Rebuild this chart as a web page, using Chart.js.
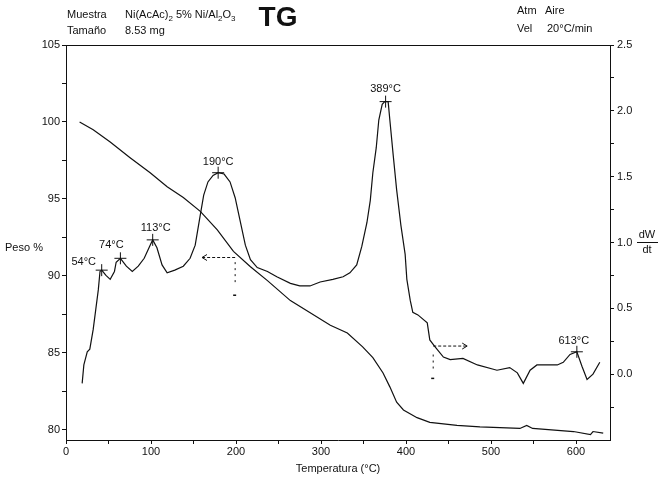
<!DOCTYPE html>
<html lang="es">
<head>
    <meta charset="UTF-8">
    <title>TG Ni(AcAc)2 5% Ni/Al2O3</title>
    <script src="https://cdn.jsdelivr.net/npm/chart.js@4.4.1/dist/chart.umd.min.js"></script>
    <style>
        body {
            margin: 0;
            background: #fff;
        }
        #tgChart {
            display: block;
        }
    </style>
</head>
<body>
    <canvas id="tgChart" width="661" height="481"></canvas>

    <script>
        // TG curve (peso %)
        const tgTemp = [16, 32, 52, 75, 99, 119, 138, 158, 178, 197, 217, 237, 264, 311, 331, 349, 361, 373, 381, 389, 397, 413, 428, 460, 487, 534, 542, 549, 597, 617, 620, 632];
        const tgWeight = [100.0, 99.5, 98.7, 97.7, 96.7, 95.8, 95.1, 94.2, 93.0, 91.6, 90.6, 89.7, 88.4, 86.8, 86.3, 85.4, 84.7, 83.7, 82.8, 81.8, 81.3, 80.8, 80.5, 80.3, 80.2, 80.1, 80.3, 80.1, 79.9, 79.7, 79.9, 79.8];

        // DTG curve (dW/dt)
        const dtgTemp = [19, 21, 25, 28, 32, 35, 38, 40, 42, 47, 52, 57, 59, 64, 71, 78, 85, 92, 99, 102, 107, 113, 119, 128, 138, 146, 152, 158, 162, 167, 173, 179, 186, 193, 199, 205, 211, 217, 225, 237, 248, 264, 275, 287, 299, 314, 326, 334, 342, 348, 354, 358, 361, 365, 368, 372, 375, 379, 381, 385, 389, 394, 399, 401, 405, 408, 414, 425, 428, 434, 444, 452, 467, 484, 507, 522, 531, 538, 546, 554, 578, 585, 593, 601, 607, 613, 620, 628];
        const dtgRate = [-0.07, 0.07, 0.17, 0.19, 0.34, 0.49, 0.64, 0.78, 0.79, 0.75, 0.72, 0.78, 0.85, 0.88, 0.82, 0.78, 0.82, 0.88, 0.98, 1.02, 0.96, 0.83, 0.77, 0.79, 0.82, 0.88, 0.98, 1.21, 1.36, 1.46, 1.51, 1.53, 1.52, 1.46, 1.34, 1.16, 0.98, 0.87, 0.81, 0.78, 0.74, 0.69, 0.67, 0.67, 0.70, 0.72, 0.74, 0.77, 0.83, 0.97, 1.15, 1.32, 1.53, 1.72, 1.93, 2.05, 2.07, 2.07, 1.93, 1.66, 1.40, 1.13, 0.91, 0.72, 0.56, 0.47, 0.45, 0.39, 0.26, 0.21, 0.13, 0.11, 0.12, 0.07, 0.03, 0.05, 0.01, -0.07, 0.03, 0.07, 0.07, 0.09, 0.15, 0.17, 0.06, -0.04, 0.00, 0.09];

        // marked DTG peaks
        const peakTemp = [42, 64, 102, 179, 376, 601];
        const peakRate = [0.79, 0.88, 1.02, 1.53, 2.07, 0.17];
        const peakLabels = ['54°C', '74°C', '113°C', '190°C', '389°C', '613°C'];

        // axis ticks
        const xTicks = [0, 50, 100, 150, 200, 250, 300, 350, 400, 450, 500, 550, 600];
        const yTicks = [80, 82.5, 85, 87.5, 90, 92.5, 95, 97.5, 100, 102.5, 105];
        const y1Ticks = [-0.25, 0, 0.25, 0.5, 0.75, 1.0, 1.25, 1.5, 1.75, 2.0, 2.25, 2.5];

        const FONT = '"Liberation Sans", Arial, sans-serif';
        const INK = '#111';

        // label offsets for the peak temperatures
        const labelShift = [[-18, -8], [-9, -13], [3, -12], [0, -11], [0, -13], [-3, -11]];

        function toPoints(xs, ys) {
            return xs.map((x, i) => ({ x: x, y: ys[i] }));
        }

        function drawParts(ctx, parts, x, y, size) {
            // parts: [text, isSubscript]
            let cx = x;
            parts.forEach(p => {
                if (p[1]) {
                    ctx.font = Math.round(size * 0.75) + 'px ' + FONT;
                    ctx.fillText(p[0], cx, y + 4);
                } else {
                    ctx.font = size + 'px ' + FONT;
                    ctx.fillText(p[0], cx, y);
                }
                cx += ctx.measureText(p[0]).width;
            });
        }

        function arrowHead(ctx, x, y, dir) {
            ctx.beginPath();
            ctx.moveTo(x + dir * 5, y - 3);
            ctx.lineTo(x, y);
            ctx.lineTo(x + dir * 5, y + 3);
            ctx.stroke();
        }

        const decorations = {
            id: 'decorations',
            afterDraw(chart) {
                const ctx = chart.ctx;
                const a = chart.chartArea;
                const sx = chart.scales.x;
                const sy = chart.scales.y;
                const sy1 = chart.scales.y1;
                ctx.save();
                ctx.fillStyle = INK;
                ctx.strokeStyle = INK;

                // frame
                ctx.lineWidth = 1;
                ctx.beginPath();
                ctx.moveTo(a.left, a.top + 0.5);
                ctx.lineTo(a.right, a.top + 0.5);
                ctx.stroke();

                // header
                ctx.textBaseline = 'middle';
                ctx.textAlign = 'left';
                ctx.font = '11px ' + FONT;
                ctx.fillText('Muestra', 67, 15);
                drawParts(ctx, [['Ni(AcAc)', 0], ['2', 1], [' 5% Ni/Al', 0], ['2', 1], ['O', 0], ['3', 1]], 125, 15, 11);
                ctx.font = '11px ' + FONT;
                ctx.fillText('Tamaño', 67, 31);
                ctx.fillText('8.53 mg', 125, 31);
                ctx.fillText('Atm', 517, 11);
                ctx.fillText('Aire', 545, 11);
                ctx.fillText('Vel', 517, 29);
                ctx.fillText('20°C/min', 547, 29);

                ctx.textAlign = 'center';
                ctx.font = 'bold 28px ' + FONT;
                ctx.fillText('TG', 278, 18);

                // axis side labels
                ctx.font = '11px ' + FONT;
                ctx.textAlign = 'left';
                ctx.fillText('Peso %', 5, 248);
                ctx.textAlign = 'center';
                ctx.fillText('dW', 647, 235);
                ctx.fillText('dt', 647, 250);
                ctx.beginPath();
                ctx.moveTo(637, 242.5);
                ctx.lineTo(658, 242.5);
                ctx.stroke();

                // peak labels
                ctx.font = '11px ' + FONT;
                peakTemp.forEach((t, i) => {
                    const px = sx.getPixelForValue(t) + labelShift[i][0];
                    const py = sy1.getPixelForValue(peakRate[i]) + labelShift[i][1];
                    ctx.fillText(peakLabels[i], px, py);
                });

                // dashed arrows showing which axis each curve uses
                ctx.setLineDash([3, 2]);
                let y = sy.getPixelForValue(91.2);
                let x0 = sx.getPixelForValue(199);
                let x1 = sx.getPixelForValue(160);
                ctx.beginPath();
                ctx.moveTo(x0, y);
                ctx.lineTo(x1, y);
                ctx.stroke();
                ctx.setLineDash([2, 4]);
                ctx.beginPath();
                ctx.moveTo(x0, sy.getPixelForValue(90.9));
                ctx.lineTo(x0, sy.getPixelForValue(89.5));
                ctx.stroke();
                ctx.setLineDash([]);
                arrowHead(ctx, x1, y, 1);
                ctx.fillRect(x0 - 2, sy.getPixelForValue(88.8), 3, 1.5);

                ctx.setLineDash([3, 2]);
                y = sy.getPixelForValue(85.45);
                x0 = sx.getPixelForValue(432);
                x1 = sx.getPixelForValue(472);
                ctx.beginPath();
                ctx.moveTo(x0, y);
                ctx.lineTo(x1, y);
                ctx.stroke();
                ctx.setLineDash([2, 4]);
                ctx.beginPath();
                ctx.moveTo(x0, sy.getPixelForValue(84.9));
                ctx.lineTo(x0, sy.getPixelForValue(83.9));
                ctx.stroke();
                ctx.setLineDash([]);
                arrowHead(ctx, x1, y, -1);
                ctx.fillRect(x0 - 2, sy.getPixelForValue(83.4), 3, 1.5);

                ctx.restore();
            }
        };

        function fixedTicks(list) {
            return scale => {
                scale.ticks = list.map(v => ({ value: v }));
            };
        }

        const tickFont = { family: FONT, size: 11 };

        new Chart(document.getElementById('tgChart'), {
            type: 'line',
            data: {
                datasets: [
                    {
                        label: 'TG',
                        data: toPoints(tgTemp, tgWeight),
                        yAxisID: 'y',
                        borderColor: INK,
                        borderWidth: 1.2,
                        pointRadius: 0,
                        tension: 0
                    },
                    {
                        label: 'DTG',
                        data: toPoints(dtgTemp, dtgRate),
                        yAxisID: 'y1',
                        borderColor: INK,
                        borderWidth: 1.2,
                        pointRadius: 0,
                        tension: 0
                    },
                    {
                        label: 'Picos',
                        data: toPoints(peakTemp, peakRate),
                        yAxisID: 'y1',
                        showLine: false,
                        pointStyle: 'cross',
                        pointRadius: 6,
                        borderColor: INK,
                        borderWidth: 1
                    }
                ]
            },
            options: {
                responsive: false,
                animation: false,
                layout: { padding: { top: 45, left: 0, right: 0, bottom: 5 } },
                plugins: {
                    legend: { display: false },
                    tooltip: { enabled: false }
                },
                scales: {
                    x: {
                        type: 'linear',
                        min: 0,
                        max: 640,
                        afterBuildTicks: fixedTicks(xTicks),
                        afterFit: s => { s.height = 36; },
                        border: { color: INK, width: 1 },
                        grid: { drawOnChartArea: false, tickLength: 4, color: INK },
                        ticks: {
                            color: INK,
                            font: tickFont,
                            padding: 1,
                            maxRotation: 0,
                            autoSkip: false,
                            callback: v => (v % 100 === 0 ? String(v) : '')
                        },
                        title: {
                            display: true,
                            text: 'Temperatura (°C)',
                            color: INK,
                            font: tickFont,
                            padding: { top: 1, bottom: 0 }
                        }
                    },
                    y: {
                        position: 'left',
                        min: 79.35,
                        max: 105,
                        afterBuildTicks: fixedTicks(yTicks),
                        afterFit: s => { s.width = 66; },
                        border: { color: INK, width: 1 },
                        grid: { drawOnChartArea: false, tickLength: 4, color: INK },
                        ticks: {
                            color: INK,
                            font: tickFont,
                            padding: 2,
                            autoSkip: false,
                            callback: v => (v % 5 === 0 ? String(v) : '')
                        }
                    },
                    y1: {
                        position: 'right',
                        min: -0.5,
                        max: 2.5,
                        afterBuildTicks: fixedTicks(y1Ticks),
                        afterFit: s => { s.width = 51; },
                        border: { color: INK, width: 1 },
                        grid: { drawOnChartArea: false, tickLength: 4, color: INK },
                        ticks: {
                            color: INK,
                            font: tickFont,
                            padding: 3,
                            autoSkip: false,
                            callback: v => (Math.abs(v * 2 - Math.round(v * 2)) < 1e-6 && v >= 0 ? v.toFixed(1) : '')
                        }
                    }
                }
            },
            plugins: [decorations]
        });
    </script>
</body>
</html>
